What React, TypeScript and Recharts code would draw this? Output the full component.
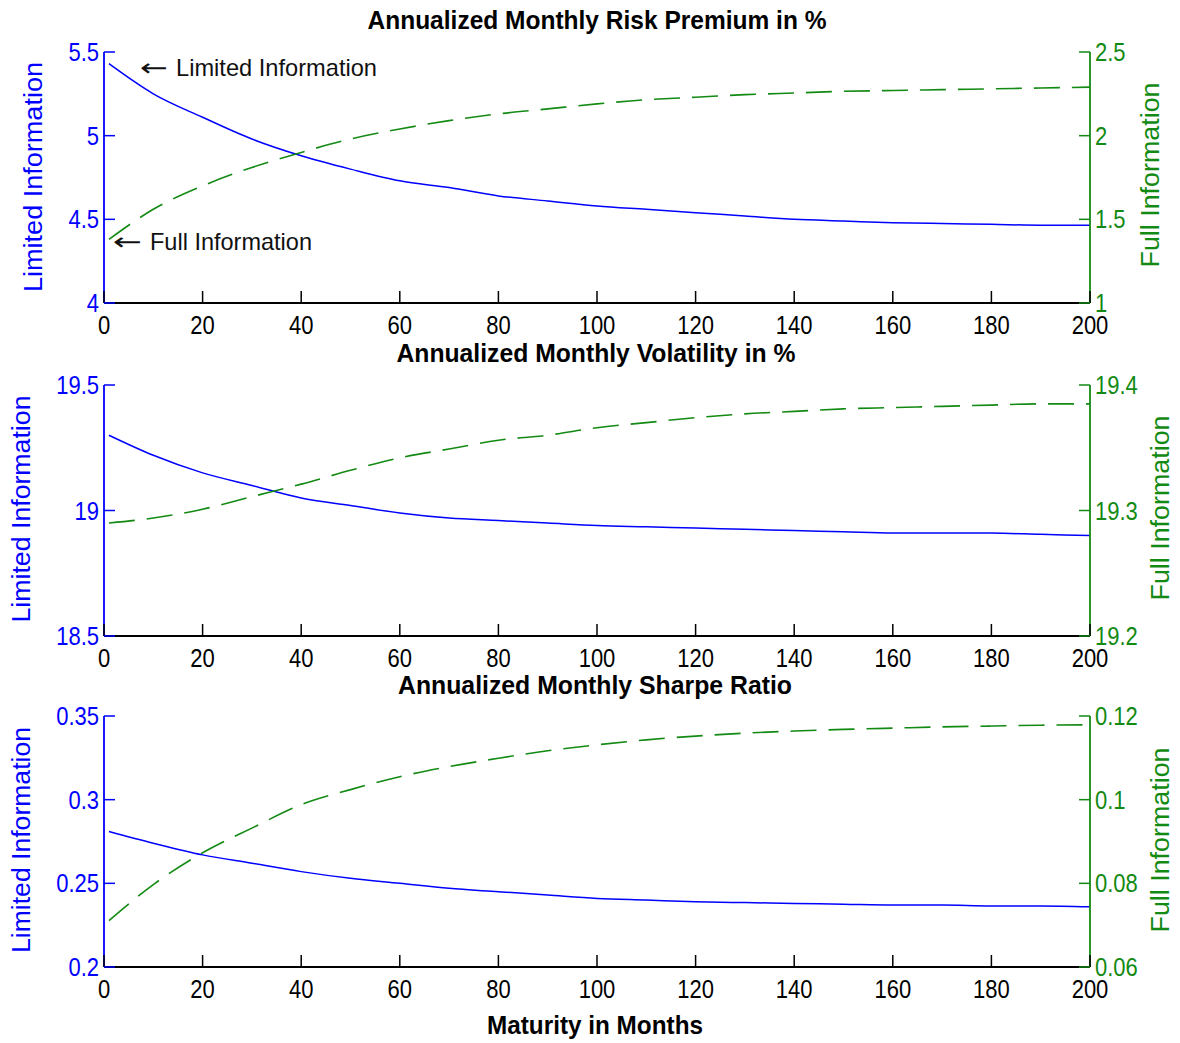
import React from 'react'
import { LineChart, Line, XAxis, YAxis } from 'recharts'

const months = [1, 10, 20, 30, 40, 50, 60, 70, 80, 90, 100, 110, 120, 130, 140, 150, 160, 170, 180, 190, 200]
const monthTicks = [0, 20, 40, 60, 80, 100, 120, 140, 160, 180, 200]

// Risk premium
const premiumLimited = [5.43, 5.25, 5.11, 4.98, 4.88, 4.8, 4.73, 4.69, 4.64, 4.61, 4.58, 4.56, 4.54, 4.52, 4.5, 4.49, 4.48, 4.475, 4.47, 4.465, 4.465]
const premiumFull = [1.38, 1.56, 1.7, 1.81, 1.9, 1.98, 2.04, 2.09, 2.13, 2.16, 2.19, 2.215, 2.23, 2.245, 2.255, 2.265, 2.27, 2.275, 2.28, 2.285, 2.29]
const premiumLeftTicks = [4, 4.5, 5, 5.5]
const premiumRightTicks = [1, 1.5, 2, 2.5]

// Volatility
const volLimited = [19.3, 19.22, 19.15, 19.1, 19.05, 19.02, 18.99, 18.97, 18.96, 18.95, 18.94, 18.935, 18.93, 18.925, 18.92, 18.915, 18.91, 18.91, 18.91, 18.905, 18.9]
const volFull = [19.29, 19.294, 19.301, 19.311, 19.321, 19.332, 19.342, 19.349, 19.356, 19.36, 19.366, 19.37, 19.374, 19.377, 19.379, 19.381, 19.382, 19.383, 19.384, 19.385, 19.385]
const volLeftTicks = [18.5, 19, 19.5]
const volRightTicks = [19.2, 19.3, 19.4]

// Sharpe ratio
const sharpeLimited = [0.281, 0.274, 0.267, 0.262, 0.257, 0.253, 0.25, 0.247, 0.245, 0.243, 0.241, 0.24, 0.239, 0.2385, 0.238, 0.2375, 0.237, 0.237, 0.2365, 0.2365, 0.236]
const sharpeFull = [0.0711, 0.0797, 0.0873, 0.0932, 0.0988, 0.1024, 0.1055, 0.1079, 0.1099, 0.1117, 0.1131, 0.1143, 0.1152, 0.1159, 0.1164, 0.1168, 0.1171, 0.1174, 0.1176, 0.1178, 0.1179]
const sharpeLeftTicks = [0.2, 0.25, 0.3, 0.35]
const sharpeRightTicks = [0.06, 0.08, 0.1, 0.12]

const BLUE = '#0000ff'
const GREEN = '#138a13'
const FONT = '"Liberation Sans", Arial, sans-serif'
const TICK_FS = 25
const SX = 0.88

const toRows = (lim: number[], full: number[]) =>
  months.map((m, i) => ({ m, lim: lim[i], full: full[i] }))

const BottomTick = (props: any) => {
  const { x, y, payload } = props
  return (
    <g>
      <line x1={x} x2={x} y1={y} y2={y - 12} stroke="#000" strokeWidth={1.5} />
      <text transform={`translate(${x} ${y + 31}) scale(${SX} 1)`} textAnchor="middle" fontFamily={FONT} fontSize={TICK_FS} fill="#000">
        {payload.value}
      </text>
    </g>
  )
}

const TopTick = (props: any) => {
  const { x, y } = props
  return <line x1={x} x2={x} y1={y} y2={y + 12} stroke="#000" strokeWidth={1.5} />
}

const LeftTick = (props: any) => {
  const { x, y, payload } = props
  return (
    <g>
      <line x1={x} x2={x + 11} y1={y} y2={y} stroke={BLUE} strokeWidth={1.5} />
      <text transform={`translate(${x - 5} ${y + 9}) scale(${SX} 1)`} textAnchor="end" fontFamily={FONT} fontSize={TICK_FS} fill={BLUE}>
        {payload.value}
      </text>
    </g>
  )
}

const RightTick = (props: any) => {
  const { x, y, payload } = props
  return (
    <g>
      <line x1={x} x2={x - 11} y1={y} y2={y} stroke={GREEN} strokeWidth={1.5} />
      <text transform={`translate(${x + 5} ${y + 9}) scale(${SX} 1)`} textAnchor="start" fontFamily={FONT} fontSize={TICK_FS} fill={GREEN}>
        {payload.value}
      </text>
    </g>
  )
}

interface PanelProps {
  top: number
  height: number
  plotTop: number
  lim: number[]
  full: number[]
  leftTicks: number[]
  rightTicks: number[]
}

function Panel({ top, height, plotTop, lim, full, leftTicks, rightTicks }: PanelProps) {
  const plotH = 251
  const data = toRows(lim, full)
  const margin = { top: plotTop, left: 44, right: 30, bottom: height - plotTop - plotH - 30 }
  return (
    <div style={{ position: 'absolute', left: 0, top }}>
      <LineChart width={1180} height={height} data={data} margin={margin}>
        <XAxis
          xAxisId="bottom"
          dataKey="m"
          type="number"
          domain={[0, 200]}
          ticks={monthTicks}
          interval={0}
          height={30}
          tickSize={0}
          tickMargin={0}
          tickLine={false}
          axisLine={{ stroke: '#000', strokeWidth: 1.8 }}
          tick={BottomTick}
        />
        <XAxis
          xAxisId="top"
          orientation="top"
          dataKey="m"
          type="number"
          domain={[0, 200]}
          ticks={monthTicks}
          interval={0}
          height={0}
          tickSize={0}
          tickMargin={0}
          tickLine={false}
          axisLine={{ stroke: '#000', strokeWidth: 1.8 }}
          tick={TopTick}
        />
        <YAxis
          yAxisId="left"
          type="number"
          domain={[leftTicks[0], leftTicks[leftTicks.length - 1]]}
          ticks={leftTicks}
          interval={0}
          width={60}
          tickSize={0}
          tickMargin={0}
          tickLine={false}
          allowDataOverflow
          axisLine={{ stroke: BLUE, strokeWidth: 1.8 }}
          tick={LeftTick}
        />
        <YAxis
          yAxisId="right"
          orientation="right"
          type="number"
          domain={[rightTicks[0], rightTicks[rightTicks.length - 1]]}
          ticks={rightTicks}
          interval={0}
          width={60}
          tickSize={0}
          tickMargin={0}
          tickLine={false}
          allowDataOverflow
          axisLine={{ stroke: GREEN, strokeWidth: 1.8 }}
          tick={RightTick}
        />
        <Line xAxisId="bottom" yAxisId="left" type="monotone" dataKey="lim" stroke={BLUE} strokeWidth={1.5} dot={false} isAnimationActive={false} />
        <Line xAxisId="bottom" yAxisId="right" type="monotone" dataKey="full" stroke={GREEN} strokeWidth={1.6} strokeDasharray="26 12" dot={false} isAnimationActive={false} />
      </LineChart>
    </div>
  )
}

function Title({ x, y, len, children }: { x: number; y: number; len: number; children: string }) {
  return (
    <text x={x} y={y} textAnchor="middle" fontFamily={FONT} fontWeight="bold" fontSize={25} fill="#000" textLength={len} lengthAdjust="spacingAndGlyphs">
      {children}
    </text>
  )
}

function VLabel({ x, y, len, color, children }: { x: number; y: number; len: number; color: string; children: string }) {
  return (
    <text
      transform={`translate(${x} ${y}) rotate(-90)`}
      textAnchor="middle"
      dominantBaseline="central"
      fontFamily={FONT}
      fontSize={25}
      fill={color}
      textLength={len}
      lengthAdjust="spacingAndGlyphs"
    >
      {children}
    </text>
  )
}

function Note({ x, y, textX, len, children }: { x: number; y: number; textX: number; len: number; children: string }) {
  return (
    <g>
      <text x={x} y={y} fontFamily='"DejaVu Sans", sans-serif' fontSize={24} fill="#111" textLength={textX - x - 8} lengthAdjust="spacingAndGlyphs">
        ←
      </text>
      <text x={textX} y={y} fontFamily={FONT} fontSize={24} fill="#111" textLength={len} lengthAdjust="spacingAndGlyphs">
        {children}
      </text>
    </g>
  )
}

export default function App() {
  return (
    <div style={{ position: 'absolute', left: 0, top: 0, width: 1180, height: 1043, background: '#fff' }}>
      <Panel top={0} height={340} plotTop={52} lim={premiumLimited} full={premiumFull} leftTicks={premiumLeftTicks} rightTicks={premiumRightTicks} />
      <Panel top={340} height={340} plotTop={45} lim={volLimited} full={volFull} leftTicks={volLeftTicks} rightTicks={volRightTicks} />
      <Panel top={680} height={363} plotTop={36} lim={sharpeLimited} full={sharpeFull} leftTicks={sharpeLeftTicks} rightTicks={sharpeRightTicks} />

      <svg width={1180} height={1043} style={{ position: 'absolute', left: 0, top: 0, pointerEvents: 'none' }}>
        <Title x={597} y={29} len={459}>Annualized Monthly Risk Premium in %</Title>
        <Title x={596} y={362} len={399}>Annualized Monthly Volatility in %</Title>
        <Title x={595} y={694} len={394}>Annualized Monthly Sharpe Ratio</Title>
        <Title x={595} y={1034} len={216}>Maturity in Months</Title>

        <VLabel x={33} y={177} len={230} color={BLUE}>Limited Information</VLabel>
        <VLabel x={1150} y={175} len={185} color={GREEN}>Full Information</VLabel>
        <VLabel x={21} y={509} len={227} color={BLUE}>Limited Information</VLabel>
        <VLabel x={1160} y={508} len={185} color={GREEN}>Full Information</VLabel>
        <VLabel x={21} y={840} len={226} color={BLUE}>Limited Information</VLabel>
        <VLabel x={1160} y={840} len={185} color={GREEN}>Full Information</VLabel>

        <Note x={140} y={76} textX={176} len={201}>Limited Information</Note>
        <Note x={113} y={250} textX={150} len={162}>Full Information</Note>
      </svg>
    </div>
  )
}
